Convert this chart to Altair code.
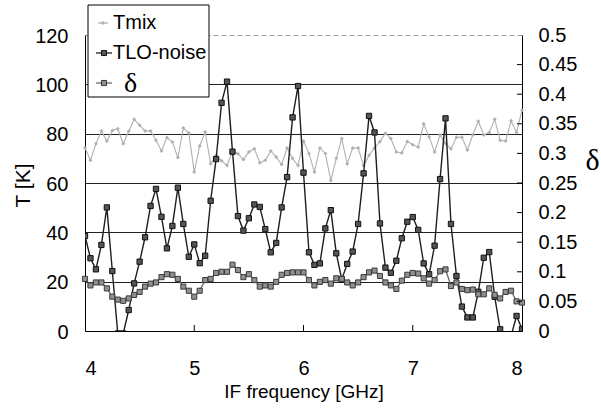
import altair as alt
import pandas as pd

# ---------------- data ----------------
freq = [4.00, 4.05, 4.10, 4.15, 4.20, 4.25, 4.30, 4.35, 4.40, 4.45,
        4.50, 4.55, 4.60, 4.65, 4.70, 4.75, 4.80, 4.85, 4.90, 4.95,
        5.00, 5.05, 5.10, 5.15, 5.20, 5.25, 5.30, 5.35, 5.40, 5.45,
        5.50, 5.55, 5.60, 5.65, 5.70, 5.75, 5.80, 5.85, 5.90, 5.95,
        6.00, 6.05, 6.10, 6.15, 6.20, 6.25, 6.30, 6.35, 6.40, 6.45,
        6.50, 6.55, 6.60, 6.65, 6.70, 6.75, 6.80, 6.85, 6.90, 6.95,
        7.00, 7.05, 7.10, 7.15, 7.20, 7.25, 7.30, 7.35, 7.40, 7.45,
        7.50, 7.55, 7.60, 7.65, 7.70, 7.75, 7.80, 7.85, 7.90, 7.95,
        8.00]

tmix = [74.2, 69.2, 75.9, 81.1, 77.0, 81.3, 82.0, 75.9, 81.0, 85.8,
        83.4, 81.1, 81.1, 77.3, 73.0, 78.4, 76.6, 70.3, 82.3, 80.3,
        64.5, 75.0, 80.7, 67.8, 71.0, 69.0, 67.1, 73.0, 71.9, 69.5,
        72.6, 73.9, 68.2, 69.2, 73.0, 70.5, 67.5, 74.2, 69.9, 67.1,
        77.0, 72.0, 64.5, 74.2, 72.0, 61.0, 70.0, 78.0, 67.8, 74.2,
        74.2, 67.1, 71.2, 74.2, 76.8, 80.2, 78.0, 72.6, 72.2, 76.8,
        75.5, 74.6, 84.0, 78.6, 72.6, 79.5, 76.0, 73.9, 78.5, 78.5,
        73.4, 79.5, 85.0, 79.5, 80.5, 85.8, 77.3, 77.0, 85.2, 80.5,
        89.5]

tlo_noise = [38.5, 29.5, 25.0, 34.9, 50.1, 24.3, -1.0, -1.0, 8.5, 19.3,
             28.1, 38.0, 50.7, 57.6, 46.3, 33.5, 42.6, 58.1, 43.4, 30.1,
             35.1, 27.5, 30.5, 52.8, 69.7, 92.5, 101.1, 72.7, 46.6, 40.7,
             45.7, 51.3, 50.3, 41.3, 31.9, 35.7, 50.1, 62.4, 86.6, 99.3,
             64.2, 31.9, 26.8, 27.4, 41.6, 49.0, 31.5, 21.0, 27.2, 32.2,
             43.4, 63.9, 87.2, 80.5, 43.6, 25.7, 23.6, 28.5, 37.6, 44.3,
             46.2, 41.0, 27.4, 23.0, 34.6, 61.6, 86.2, 43.4, 22.3, 9.9,
             5.5, 5.5, 15.9, 29.7, 32.0, 13.9, 0.7, -8.0, -2.0, 6.1,
             0.8]

delta = [0.088, 0.077, 0.082, 0.082, 0.072, 0.058, 0.053, 0.051, 0.055, 0.061,
         0.066, 0.075, 0.080, 0.082, 0.091, 0.096, 0.095, 0.088, 0.075, 0.068,
         0.058, 0.068, 0.086, 0.088, 0.098, 0.100, 0.100, 0.112, 0.103, 0.091,
         0.096, 0.086, 0.075, 0.077, 0.075, 0.083, 0.095, 0.098, 0.099, 0.099,
         0.099, 0.086, 0.077, 0.083, 0.086, 0.080, 0.089, 0.088, 0.082, 0.077,
         0.082, 0.091, 0.099, 0.102, 0.093, 0.082, 0.077, 0.071, 0.085, 0.095,
         0.098, 0.097, 0.089, 0.080, 0.086, 0.101, 0.104, 0.076, 0.082, 0.071,
         0.069, 0.070, 0.062, 0.062, 0.072, 0.061, 0.055, 0.066, 0.068, 0.050,
         0.048]

legend_names = ["Tmix", "TLO-noise", "δ"]
f_ticks = [4, 5, 6, 7, 8]
f_inner_ticks = [5, 6, 7]
t_ticks = [0, 20, 40, 60, 80, 100, 120]
d_ticks = [0, 0.05, 0.1, 0.15, 0.2, 0.25, 0.3, 0.35, 0.4, 0.45, 0.5]
d_inner_ticks = [0.05, 0.1, 0.15, 0.2, 0.25, 0.3, 0.35, 0.4, 0.45]

df = pd.DataFrame({"freq": freq, "tmix": tmix, "tlo": tlo_noise, "delta": delta})

# ---------------- styling ----------------
W, H = 437, 296
FONT = "Liberation Sans"
SERIF = "Liberation Serif"

x_scale = alt.Scale(domain=[4, 8], nice=False, zero=False)
x_axis = alt.Axis(values=f_ticks, title="IF frequency [GHz]", format="d", tickSize=0,
                  labelPadding=27, labelFontSize=20, labelFont=FONT, labelColor="#000",
                  titleFontSize=19, titleFont=FONT, titleColor="#000", titleFontWeight="normal",
                  titleY=66, titleBaseline="alphabetic", domainColor="#000", domainWidth=1,
                  grid=False)

def xq(field):
    return alt.X(f"{field}:Q", scale=x_scale, axis=x_axis)

t_scale = alt.Scale(domain=[0, 120], nice=False, zero=False)
t_axis = alt.Axis(values=t_ticks, title="T [K]", tickSize=0, labelPadding=17, labelOffset=1,
                  labelFontSize=20, labelFont=FONT, labelColor="#000",
                  titleFontSize=21, titleFont=FONT, titleColor="#000", titleFontWeight="normal",
                  titleX=-62, titleY=150, titleAlign="center", titleBaseline="middle",
                  domainColor="#000", domainWidth=1, grid=True,
                  gridColor={"condition": {"test": "datum.value === 120", "value": "#9a9a9a"},
                             "value": "#222222"},
                  gridDash={"condition": {"test": "datum.value === 120", "value": [5, 3]},
                            "value": []},
                  gridWidth=1, gridOpacity=1)

def tq(field):
    return alt.Y(f"{field}:Q", scale=t_scale, axis=t_axis)

d_scale = alt.Scale(domain=[0, 0.5], nice=False, zero=False)
d_axis = alt.Axis(orient="right", values=d_ticks, title="δ", tickSize=0, labelPadding=16,
                  labelExpr="format(datum.value, '.2~f')",
                  labelFontSize=20, labelFont=FONT, labelColor="#000",
                  titleFont=SERIF, titleFontSize=30, titleColor="#000", titleFontWeight="normal",
                  titleAngle=0, titleX=70, titleY=125, titleAlign="center", titleBaseline="middle",
                  domainColor="#000", domainWidth=1, grid=False)

def dq(field):
    return alt.Y(f"{field}:Q", scale=d_scale, axis=d_axis)

TMIX_C = "#b0b0b0"
TLO_C = "#1e1e1e"
D_C = "#6a6a6a"

base = alt.Chart(df)

tmix_line = base.mark_line(color=TMIX_C, strokeWidth=1.1).encode(x=xq("freq"), y=tq("tmix"))
tmix_pts = base.mark_point(shape="diamond", filled=True, size=16, color=TMIX_C, opacity=1).encode(
    x=xq("freq"), y=tq("tmix"))
tlo_line = base.mark_line(color=TLO_C, strokeWidth=1.4, clip=True).encode(x=xq("freq"), y=tq("tlo"))
tlo_pts = base.mark_square(size=28, color="#555555", stroke="#111111", strokeWidth=1,
                           opacity=1, clip=True).encode(x=xq("freq"), y=tq("tlo"))
x_inner = alt.Chart(pd.DataFrame({"f": f_inner_ticks})).mark_rule(color="#000", strokeWidth=1).encode(
    x=xq("f"), y=alt.value(H), y2=alt.value(H - 6))

left = alt.layer(tmix_line, tmix_pts, x_inner, tlo_line, tlo_pts)

d_line = base.mark_line(color=D_C, strokeWidth=1.3).encode(x=xq("freq"), y=dq("delta"))
d_pts = base.mark_square(size=26, color="#909090", stroke="#3a3a3a", strokeWidth=1, opacity=1).encode(
    x=xq("freq"), y=dq("delta"))
d_inner = alt.Chart(pd.DataFrame({"d": d_inner_ticks})).mark_rule(color="#000", strokeWidth=1).encode(
    y=dq("d"), x=alt.value(W), x2=alt.value(W - 5))

right = alt.layer(d_line, d_pts, d_inner)

# ---------------- legend box (drawn in the top-left corner) ----------------
one = pd.DataFrame({"a": [0]})
box = alt.Chart(one).mark_rect(fill="white", stroke="#000", strokeWidth=1).encode(
    x=alt.value(3), x2=alt.value(124), y=alt.value(-30), y2=alt.value(62))

leg_layers = [box]
leg_y = [-12, 18, 48]
leg_line_c = [TMIX_C, TLO_C, D_C]
for i, name in enumerate(legend_names):
    yv = leg_y[i]
    leg_layers.append(alt.Chart(one).mark_rule(color=leg_line_c[i], strokeWidth=1.3).encode(
        x=alt.value(11 if i else 13), x2=alt.value(27 if i else 23), y=alt.value(yv)))
    if i == 0:
        leg_layers.append(alt.Chart(one).mark_point(shape="diamond", filled=True, size=16,
                                                    color=TMIX_C, opacity=1).encode(
            x=alt.value(18), y=alt.value(yv)))
    else:
        leg_layers.append(alt.Chart(one).mark_square(
            size=26, color="#555555" if i == 1 else "#909090",
            stroke="#111111" if i == 1 else "#3a3a3a", strokeWidth=1, opacity=1).encode(
            x=alt.value(19), y=alt.value(yv)))
    lab = pd.DataFrame({"label": [name]})
    if i < 2:
        t = alt.Chart(lab).mark_text(font=FONT, fontSize=20, align="left", baseline="middle",
                                     color="#000").encode(
            text="label:N", x=alt.value(28), y=alt.value(yv))
    else:
        t = alt.Chart(lab).mark_text(font=SERIF, fontSize=28, align="left", baseline="middle",
                                     color="#000").encode(
            text="label:N", x=alt.value(39), y=alt.value(yv + 1))
    leg_layers.append(t)

legend = alt.layer(*leg_layers)

chart = alt.layer(left, right, legend).resolve_scale(y="independent").properties(
    width=W, height=H,
    autosize=alt.AutoSizeParams(type="none"),
    padding={"left": 85, "top": 35, "right": 79, "bottom": 78},
    background="white",
).configure_view(stroke=None)

chart.save("out.html", embed_options={"renderer": "svg", "actions": False})
